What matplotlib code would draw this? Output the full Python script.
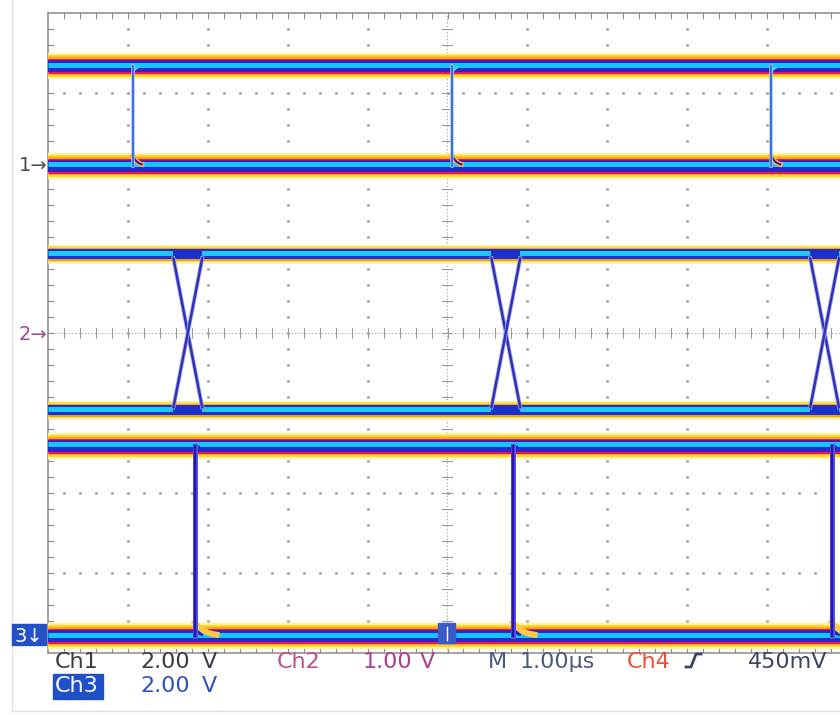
import numpy as np
import matplotlib
matplotlib.use('Agg')
import matplotlib.pyplot as plt
from matplotlib.patches import Rectangle
from matplotlib.lines import Line2D

W, H, DPI = 840, 715, 100

# where the graticule sits on the screenshot (pixels)
grat_left, grat_top = 48, 13
px_x, px_y = 79.9, 80.0          # pixels per division
n_div_x, n_div_y = 10, 8
x_visible = (W - grat_left) / px_x
PT = 72.0 / DPI                  # points per pixel

# channel setup: volts/div and ground position (divisions above centre)
ch1_vdiv, ch1_pos = 2.0, 2.09
ch2_vdiv, ch2_pos = 1.0, 0.0
ch3_vdiv, ch3_pos = 2.0, -3.79

# logic levels in volts
ch1_levels = [0.0, 2.49]
ch2_levels = [-0.96, 0.99]
ch3_levels = [0.0, 4.76]

# edge / crossing times in microseconds (1 us/div, from left edge)
ch1_edges = [1.06, 5.06, 9.05]
ch2_crossings = [1.75, 5.73, 9.72]
ch3_edges = [1.84, 5.82, 9.81]
ch2_half_width = 0.18   # us
settle_tau = 0.06       # us

# persistence colour layers: (colour, top px, bottom px) around the rail centre
heavy_band = [
    ('#fff2a0', -13, 13),
    ('#ffd820', -11, 11),
    ('#ffa424', -9, 9),
    ('#e21a4e', -7.5, 7.5),
    ('#700ca0', -6, 6),
    ('#1a2cd2', -5, 5),
    ('#16c6f8', -4, 1),
]
light_band = [
    ('#fff4b0', -9.5, 9.5),
    ('#ffdc40', -8, 8),
    ('#f0a030', -6, 7),
    ('#1c30cc', -4.5, 5.5),
    ('#1ec8f6', -3.5, 1.5),
]


def to_div(v, vdiv, pos):
    return pos + v / vdiv


def draw_band(ax, x0, x1, y, layers, z=3):
    for color, a, b in layers:
        yc = y - (a + b) / 2 / px_y
        ax.plot([x0, x1], [yc, yc], color=color, lw=(b - a) * PT,
                solid_capstyle='butt', zorder=z)


def settle(te, level, sign, amp_px, tau):
    # exponential settling, drawn until it is within ~1.5 px of the rail
    length = tau * np.log(amp_px / 1.5)
    t = np.linspace(te, te + length, 60)
    return t, level + sign * amp_px / px_y * np.exp(-(t - te) / tau)


fig = plt.figure(figsize=(W / DPI, H / DPI), dpi=DPI)
fig.patch.set_facecolor('white')
ax = fig.add_axes([grat_left / W, 1 - (grat_top + n_div_y * px_y) / H,
                   (W - grat_left) / W, n_div_y * px_y / H])
ax.set_xlim(0, x_visible)
ax.set_ylim(-n_div_y / 2, n_div_y / 2)
ax.axis('off')

grid_col = '#b0b0b0'
# dotted graticule
for k in range(1, n_div_x):
    if k == 5:
        continue
    ys = np.arange(-3.8, 4.0, 0.2)
    ax.plot(np.full_like(ys, k), ys, ls='none', marker='s', ms=1.1,
            color=grid_col, zorder=1)
for j in range(-3, 4):
    if j == 0:
        continue
    xs = np.arange(0.2, x_visible, 0.2)
    ax.plot(xs, np.full_like(xs, j), ls='none', marker='s', ms=1.1,
            color=grid_col, zorder=1)

# centre crosshair with minor ticks
ax.plot([0, x_visible], [0, 0], color='#9a9a9a', lw=0.8, ls=(0, (1, 2)), zorder=1)
ax.plot([5, 5], [-4, 4], color='#9a9a9a', lw=0.8, ls=(0, (1, 2)), zorder=1)
tick_h = 5 / px_y
tick_w = 5 / px_x
xs = np.arange(0.2, x_visible, 0.2)
tx = np.column_stack([xs, xs, np.full_like(xs, np.nan)]).ravel()
ty = np.column_stack([np.full_like(xs, -tick_h), np.full_like(xs, tick_h),
                      np.full_like(xs, np.nan)]).ravel()
ax.plot(tx, ty, color='#9a9a9a', lw=0.8, zorder=1)
ys = np.arange(-3.8, 4.0, 0.2)
vx = np.column_stack([np.full_like(ys, 5 - tick_w), np.full_like(ys, 5 + tick_w),
                      np.full_like(ys, np.nan)]).ravel()
vy = np.column_stack([ys, ys, np.full_like(ys, np.nan)]).ravel()
ax.plot(vx, vy, color='#9a9a9a', lw=0.8, zorder=1)

# border with inward ticks
bcol = '#8a8a8a'
ax.plot([0, x_visible], [4, 4], color=bcol, lw=1.1, clip_on=False, zorder=2)
ax.plot([0, x_visible], [-4, -4], color=bcol, lw=1.1, clip_on=False, zorder=2)
ax.plot([0, 0], [-4, 4], color=bcol, lw=1.1, clip_on=False, zorder=2)
bt = 5 / px_y
for x in xs:
    ax.plot([x, x], [4, 4 - bt], color=bcol, lw=0.8, zorder=2)
    ax.plot([x, x], [-4, -4 + bt], color=bcol, lw=0.8, zorder=2)
for y in ys:
    ax.plot([0, bt * px_y / px_x], [y, y], color=bcol, lw=0.8, zorder=2)

# ---- channel 1
c1_lo = to_div(ch1_levels[0], ch1_vdiv, ch1_pos)
c1_hi = to_div(ch1_levels[1], ch1_vdiv, ch1_pos)
draw_band(ax, 0, x_visible, c1_hi, heavy_band)
draw_band(ax, 0, x_visible, c1_lo, heavy_band)
for te in ch1_edges:
    t, y = settle(te, c1_lo, 1, 10, settle_tau)
    ax.plot(t, y, color='#ffb040', lw=5 * PT, zorder=4)
    ax.plot(t, y, color='#2a1cb0', lw=2 * PT, zorder=5)
    t, y = settle(te, c1_hi, -1, 6, 0.04)
    ax.plot(t, y, color='#40d0ff', lw=2.5 * PT, zorder=5)
    ax.plot([te, te], [c1_lo, c1_hi], color='#9cc8f4', lw=3.5 * PT, zorder=5)
    ax.plot([te, te], [c1_lo, c1_hi], color='#2c58d8', lw=1.6 * PT, zorder=5)

# ---- channel 2
c2_lo = to_div(ch2_levels[0], ch2_vdiv, ch2_pos)
c2_hi = to_div(ch2_levels[1], ch2_vdiv, ch2_pos)
draw_band(ax, 0, x_visible, c2_hi, light_band)
draw_band(ax, 0, x_visible, c2_lo, light_band)
hw = ch2_half_width
for c in ch2_crossings:
    draw_band(ax, c - hw, c + hw, c2_hi, [('#1c30cc', -4.5, 3)], z=4)
    draw_band(ax, c - hw, c + hw, c2_lo, [('#1c30cc', -4, 3.5)], z=4)
    top = c2_hi - 4.5 / px_y
    bot = c2_lo + 2.5 / px_y
    for xa, xb in [(c - hw, c + hw), (c + hw, c - hw)]:
        ax.plot([xa, xb], [top, bot], color='#9aa0ec', lw=4 * PT, zorder=5)
        ax.plot([xa, xb], [top, bot], color='#3030b8', lw=2.4 * PT, zorder=5)

# ---- channel 3
c3_lo = to_div(ch3_levels[0], ch3_vdiv, ch3_pos)
c3_hi = to_div(ch3_levels[1], ch3_vdiv, ch3_pos)
draw_band(ax, 0, x_visible, c3_hi, heavy_band)
draw_band(ax, 0, x_visible, c3_lo, heavy_band)
for te in ch3_edges:
    t, y = settle(te, c3_lo, 1, 14, 0.12)
    ax.plot(t, y, color='#ffc848', lw=6 * PT, zorder=4)
    t, y = settle(te, c3_lo, 1, 8, 0.05)
    ax.plot(t, y, color='#2a20b8', lw=2.5 * PT, zorder=5)
    t, y = settle(te, c3_hi, -1, 5, 0.04)
    ax.plot(t, y, color='#1a2cd2', lw=3 * PT, zorder=5)
    ax.plot([te, te], [c3_lo, c3_hi], color='#4c5ae0', lw=5 * PT, zorder=6)
    ax.plot([te, te], [c3_lo, c3_hi], color='#3010b0', lw=2.5 * PT, zorder=6)


# ---- screen readout (pixel positions)
def ftext(x, y, s, color, size=16, **kw):
    fig.text(x / W, 1 - y / H, s, color=color, fontsize=size,
             ha='left', va='baseline', **kw)


def fbox(x0, y0, x1, y1, color):
    fig.patches.append(Rectangle((x0 / W, 1 - y1 / H), (x1 - x0) / W,
                                 (y1 - y0) / H, transform=fig.transFigure,
                                 color=color, zorder=10))


# outer screenshot frame
fig.add_artist(Line2D([12 / W, 12 / W], [1 - 711 / H, 1], color='#e2e2e2', lw=1))
fig.add_artist(Line2D([12 / W, 1], [1 - 711 / H, 1 - 711 / H], color='#e2e2e2', lw=1))

# channel markers
ftext(19, 171, '1→', '#4a4a58', size=14)
ftext(19, 340, '2→', '#a04890', size=14)
fbox(12, 624, 46, 645, '#2450c8')
ftext(14, 642, '3↓', 'white', size=14, zorder=11)

# trigger position marker
fbox(438, 623, 455, 643, '#3a5ac8')
fig.add_artist(Line2D([446.5 / W, 446.5 / W], [1 - 640 / H, 1 - 627 / H],
                      color='white', lw=1, zorder=11))

dark = '#3a3a48'
ftext(55, 668, 'Ch1', dark)
ftext(140, 668, '2.00', dark)
ftext(202, 668, 'V', dark)
ftext(277, 668, 'Ch2', '#c0508c')
ftext(363, 668, '1.00', '#a8408c')
ftext(420, 668, 'V', '#a8408c')
ftext(488, 668, 'M', '#4a5a80')
ftext(520, 668, '1.00µs', '#4a5a80')
ftext(627, 668, 'Ch4', '#e8503c')
fig.add_artist(Line2D(np.array([686, 691, 696, 701]) / W,
                      1 - np.array([667, 667, 654, 654]) / H,
                      color='#3c4660', lw=2))
ftext(748, 668, '450mV', '#3c4660')

fbox(53, 674, 103, 699, '#2050c8')
ftext(55, 692, 'Ch3', 'white', zorder=11)
ftext(140, 692, '2.00', '#3050c0')
ftext(202, 692, 'V', '#3050c0')

fig.savefig('out.png', dpi=DPI, facecolor='white')
